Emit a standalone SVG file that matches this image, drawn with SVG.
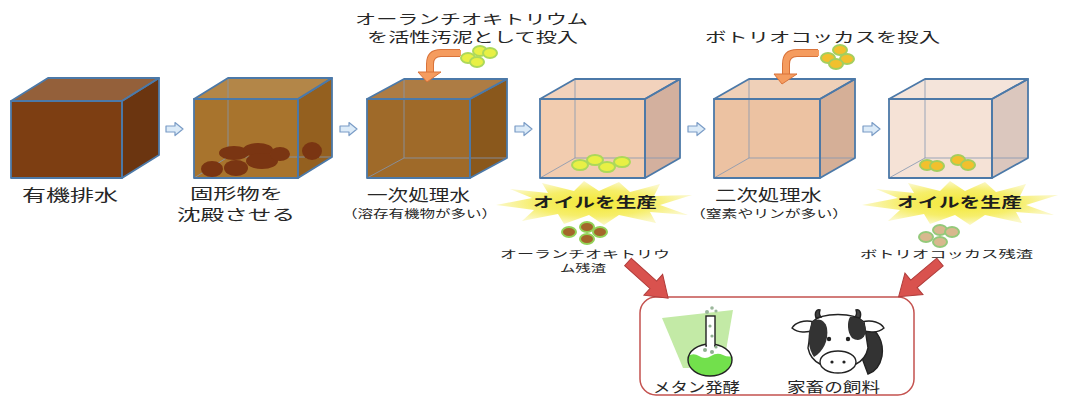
<svg xmlns="http://www.w3.org/2000/svg" width="1069" height="399" viewBox="0 0 1069 399">
  <defs>
    <style>
      .lbl { font-family: "Noto Sans CJK JP", "Noto Sans CJK SC", sans-serif; fill: #262626; }
      .big { font-size: 15.5px; }
      .mid { font-size: 13.5px; }
      .sub { font-size: 11.5px; }
      .sm { font-size: 10.5px; }
      .oil { font-size: 14px; font-weight: bold; fill: #1e1e1e; }
      .edge { fill: none; stroke: #4C79A8; stroke-width: 1.8; stroke-linejoin: round; }
      .back { stroke: #8497B2; stroke-width: 1; opacity: 0.8; }
      .flow { fill: #DCEBF8; stroke: #7A9CC6; stroke-width: 1.2; stroke-linejoin: round; }
      .pipe-o { fill: none; stroke: #D9733A; stroke-width: 8; stroke-linecap: butt; }
      .pipe-i { fill: none; stroke: #F59C5F; stroke-width: 6; stroke-linecap: butt; }
      .head { fill: #F59C5F; stroke: #D9733A; stroke-width: 1; }
      .alga-y { fill: #E8F045; stroke: #ACD85A; stroke-width: 2; }
      .alga-o { fill: #F2C02E; stroke: #A4CE5E; stroke-width: 2; }
      .res-a { fill: #A4662A; stroke: #92D256; stroke-width: 2; }
      .res-b { fill: #D8B88E; stroke: #94C97A; stroke-width: 2; }
      .sed { fill: #7A3512; }
      .red { fill: #D9524E; stroke: #B03C3A; stroke-width: 1; }
      .ink { stroke: #222; stroke-width: 1.4; }
    </style>
    <radialGradient id="burstFill" cx="0.5" cy="0.5" r="0.5">
      <stop offset="0" stop-color="#F3E834"/>
      <stop offset="0.6" stop-color="#F6EE6A"/>
      <stop offset="1" stop-color="#FBF8C8"/>
    </radialGradient>
    <polygon id="burst" fill="url(#burstFill)" points="-98,2 -62,-5 -84,-14 -46,-10 -52,-20 -20,-12 -10,-22 5,-12 25,-21 36,-11 66,-19 60,-7 98,-8 66,2 94,12 56,9 62,20 25,12 10,22 -5,12 -30,21 -36,11 -72,18 -60,7"/>
    <path id="flowArrow" class="flow" d="M0,-3 H9 V-6.5 L17,0 L9,6.5 V3 H0 Z"/>
    <polygon id="redArrow" class="red" points="0,-5 34,-5 34,-14 54,0 34,14 34,5 0,5"/>
    <clipPath id="bulbClip">
      <ellipse cx="710" cy="360" rx="22" ry="16"/>
    </clipPath>
  </defs>

  <rect width="1069" height="399" fill="#ffffff"/>

  <!-- tank 1: raw organic wastewater (opaque) -->
  <g id="tank-raw">
    <polygon points="11,101 48,78 159,78 122,101" fill="#94603A"/>
    <polygon points="122,101 159,78 159,155 122,178" fill="#6B3510"/>
    <rect x="11" y="101" width="111" height="77" fill="#7D3E12"/>
    <polygon class="edge" points="11,101 48,78 159,78 122,101"/>
    <polygon class="edge" points="122,101 159,78 159,155 122,178"/>
    <rect class="edge" x="11" y="101" width="111" height="77"/>
    <text class="lbl big" x="22" y="201" textLength="96" lengthAdjust="spacingAndGlyphs">有機排水</text>
  </g>

  <!-- tank 2: settling of solids -->
  <g id="tank-settle">
    <polygon points="194,99 228,78 332,78 298,99" fill="#B38648"/>
    <polygon points="298,99 332,78 332,157 298,178" fill="#94601F"/>
    <rect x="194" y="99" width="104" height="79" fill="#A8742D"/>
    <line class="back" x1="228" y1="78" x2="228" y2="157"/>
    <line class="back" x1="228" y1="157" x2="332" y2="157"/>
    <line class="back" x1="194" y1="178" x2="228" y2="157"/>
    <ellipse class="sed" cx="212" cy="169" rx="11" ry="8"/>
    <ellipse class="sed" cx="236" cy="168" rx="12" ry="8"/>
    <ellipse class="sed" cx="234" cy="153" rx="15" ry="7"/>
    <ellipse class="sed" cx="258" cy="150" rx="15" ry="7"/>
    <ellipse class="sed" cx="262" cy="161" rx="16" ry="8"/>
    <ellipse class="sed" cx="280" cy="154" rx="10" ry="7"/>
    <ellipse class="sed" cx="312" cy="151" rx="10" ry="9"/>
    <polygon class="edge" points="194,99 228,78 332,78 298,99"/>
    <polygon class="edge" points="298,99 332,78 332,157 298,178"/>
    <rect class="edge" x="194" y="99" width="104" height="79"/>
    <text class="lbl" x="190" y="199" font-size="15" textLength="93" lengthAdjust="spacingAndGlyphs">固形物を</text>
    <text class="lbl" x="177" y="220" font-size="15" textLength="118" lengthAdjust="spacingAndGlyphs">沈殿させる</text>
  </g>

  <!-- tank 3: primary treated water, Aurantiochytrium added -->
  <g id="tank-primary">
    <polygon points="367,99 404,79 507,79 470,99" fill="#AD7C44"/>
    <polygon points="470,99 507,79 507,158 470,178" fill="#8A581C"/>
    <rect x="367" y="99" width="103" height="79" fill="#9F6A29"/>
    <line class="back" x1="404" y1="79" x2="404" y2="158"/>
    <line class="back" x1="404" y1="158" x2="507" y2="158"/>
    <line class="back" x1="367" y1="178" x2="404" y2="158"/>
    <polygon class="edge" points="367,99 404,79 507,79 470,99"/>
    <polygon class="edge" points="470,99 507,79 507,158 470,178"/>
    <rect class="edge" x="367" y="99" width="103" height="79"/>
    <path class="pipe-o" d="M460,53 H441 Q430,53 430,64 V73"/>
    <path class="pipe-i" d="M461,53 H441 Q430,53 430,64 V74"/>
    <polygon class="head" points="418,72 441,72 427,82"/>
    <ellipse class="alga-y" cx="468" cy="58" rx="7" ry="5"/>
    <ellipse class="alga-y" cx="480" cy="51" rx="7" ry="5"/>
    <ellipse class="alga-y" cx="490" cy="53" rx="7" ry="5"/>
    <ellipse class="alga-y" cx="477" cy="62" rx="7" ry="5"/>
    <text class="lbl mid" x="355" y="24" textLength="233" lengthAdjust="spacingAndGlyphs">オーランチオキトリウム</text>
    <text class="lbl mid" x="367" y="42" textLength="211" lengthAdjust="spacingAndGlyphs">を活性汚泥として投入</text>
    <text class="lbl big" x="367" y="201" textLength="103" lengthAdjust="spacingAndGlyphs">一次処理水</text>
    <text class="lbl sub" x="342" y="218" textLength="155" lengthAdjust="spacingAndGlyphs">（溶存有機物が多い）</text>
  </g>

  <!-- tank 4: Aurantiochytrium produces oil -->
  <g id="tank-oil-1">
    <polygon points="540,99 575,79 680,79 645,99" fill="#F2D2BC"/>
    <polygon points="645,99 680,79 680,158 645,178" fill="#D3B09E"/>
    <rect x="540" y="99" width="105" height="79" fill="#F2CCAF"/>
    <line class="back" x1="575" y1="79" x2="575" y2="158"/>
    <line class="back" x1="575" y1="158" x2="680" y2="158"/>
    <line class="back" x1="540" y1="178" x2="575" y2="158"/>
    <ellipse class="alga-y" cx="580" cy="165" rx="8" ry="5"/>
    <ellipse class="alga-y" cx="595" cy="160" rx="8" ry="5"/>
    <ellipse class="alga-y" cx="607" cy="167" rx="8" ry="5"/>
    <ellipse class="alga-y" cx="622" cy="162" rx="8" ry="5"/>
    <polygon class="edge" points="540,99 575,79 680,79 645,99"/>
    <polygon class="edge" points="645,99 680,79 680,158 645,178"/>
    <rect class="edge" x="540" y="99" width="105" height="79"/>
    <use href="#burst" transform="translate(594,203)"/>
    <text class="lbl oil" x="533" y="207" textLength="124" lengthAdjust="spacingAndGlyphs">オイルを生産</text>
    <ellipse class="res-a" cx="569" cy="232" rx="7" ry="5"/>
    <ellipse class="res-a" cx="587" cy="227" rx="7" ry="5"/>
    <ellipse class="res-a" cx="600" cy="232" rx="7" ry="5"/>
    <ellipse class="res-a" cx="587" cy="239" rx="7" ry="5"/>
    <text class="lbl sm" x="500" y="258" textLength="170" lengthAdjust="spacingAndGlyphs">オーランチオキトリウ</text>
    <text class="lbl sm" x="560" y="272" textLength="46" lengthAdjust="spacingAndGlyphs">ム残渣</text>
  </g>

  <!-- tank 5: secondary treated water, Botryococcus added -->
  <g id="tank-secondary">
    <polygon points="714,99 749,79 855,79 820,99" fill="#EFD0B8"/>
    <polygon points="820,99 855,79 855,158 820,178" fill="#D5AF97"/>
    <rect x="714" y="99" width="106" height="79" fill="#ECC2A2"/>
    <line class="back" x1="749" y1="79" x2="749" y2="158"/>
    <line class="back" x1="749" y1="158" x2="855" y2="158"/>
    <line class="back" x1="714" y1="178" x2="749" y2="158"/>
    <polygon class="edge" points="714,99 749,79 855,79 820,99"/>
    <polygon class="edge" points="820,99 855,79 855,158 820,178"/>
    <rect class="edge" x="714" y="99" width="106" height="79"/>
    <path class="pipe-o" d="M818,53 H797 Q786,53 786,64 V75"/>
    <path class="pipe-i" d="M819,53 H797 Q786,53 786,64 V76"/>
    <polygon class="head" points="774,74 797,74 782,84"/>
    <ellipse class="alga-o" cx="828" cy="58" rx="7" ry="5"/>
    <ellipse class="alga-o" cx="840" cy="50" rx="7" ry="5"/>
    <ellipse class="alga-o" cx="847" cy="59" rx="7" ry="5"/>
    <ellipse class="alga-o" cx="836" cy="64" rx="7" ry="5"/>
    <text class="lbl mid" x="705" y="42" textLength="235" lengthAdjust="spacingAndGlyphs">ボトリオコッカスを投入</text>
    <text class="lbl big" x="715" y="201" textLength="107" lengthAdjust="spacingAndGlyphs">二次処理水</text>
    <text class="lbl sub" x="690" y="218" textLength="158" lengthAdjust="spacingAndGlyphs">（窒素やリンが多い）</text>
  </g>

  <!-- tank 6: Botryococcus produces oil -->
  <g id="tank-oil-2">
    <polygon points="889,99 925,79 1028,79 992,99" fill="#F4E4DA"/>
    <polygon points="992,99 1028,79 1028,158 992,178" fill="#DBC7BE"/>
    <rect x="889" y="99" width="103" height="79" fill="#F5E2D6"/>
    <line class="back" x1="925" y1="79" x2="925" y2="158"/>
    <line class="back" x1="925" y1="158" x2="1028" y2="158"/>
    <line class="back" x1="889" y1="178" x2="925" y2="158"/>
    <ellipse class="alga-o" cx="927" cy="165" rx="7" ry="5"/>
    <ellipse class="alga-o" cx="937" cy="166" rx="7" ry="5"/>
    <ellipse class="alga-o" cx="958" cy="160" rx="7" ry="5"/>
    <ellipse class="alga-o" cx="968" cy="165" rx="7" ry="5"/>
    <polygon class="edge" points="889,99 925,79 1028,79 992,99"/>
    <polygon class="edge" points="992,99 1028,79 1028,158 992,178"/>
    <rect class="edge" x="889" y="99" width="103" height="79"/>
    <use href="#burst" transform="translate(960,203)"/>
    <text class="lbl oil" x="897" y="207" textLength="125" lengthAdjust="spacingAndGlyphs">オイルを生産</text>
    <ellipse class="res-b" cx="926" cy="237" rx="7" ry="5"/>
    <ellipse class="res-b" cx="940" cy="230" rx="7" ry="5"/>
    <ellipse class="res-b" cx="952" cy="232" rx="7" ry="5"/>
    <ellipse class="res-b" cx="940" cy="242" rx="7" ry="5"/>
    <text class="lbl sm" x="860" y="258" textLength="173" lengthAdjust="spacingAndGlyphs">ボトリオコッカス残渣</text>
  </g>

  <!-- uses of the residues -->
  <g id="uses">
    <rect x="640" y="297" width="274" height="98" rx="16" fill="#ffffff" stroke="#C4524F" stroke-width="1.5"/>
    <!-- methane fermentation flask -->
    <polygon points="662,318 733,310 723,368 683,368" fill="#C3EAA6"/>
    <circle cx="707" cy="312" r="2" fill="#9BB79B"/>
    <circle cx="712" cy="308" r="1.8" fill="#9BB79B"/>
    <circle cx="716" cy="311" r="1.6" fill="#9BB79B"/>
    <ellipse cx="710" cy="360" rx="22" ry="16" fill="#ffffff"/>
    <path clip-path="url(#bulbClip)" d="M686,357 Q693,352 699,356 T711,356 T723,355 T736,355 V380 H686 Z" fill="#72E04C"/>
    <ellipse cx="710" cy="360" rx="22" ry="16" fill="none" class="ink"/>
    <rect x="706" y="316" width="9" height="30" fill="#ffffff" class="ink"/>
    <rect x="707" y="343" width="7" height="5" fill="#ffffff"/>
    <circle cx="710" cy="326" r="1.6" fill="#8FB08F"/>
    <circle cx="712" cy="336" r="1.6" fill="#8FB08F"/>
    <circle cx="705" cy="350" r="2" fill="#8FB08F"/>
    <circle cx="712" cy="352" r="2" fill="#8FB08F"/>
    <circle cx="716" cy="347" r="1.6" fill="#8FB08F"/>
    <text class="lbl" x="653" y="392" font-size="14" textLength="87" lengthAdjust="spacingAndGlyphs">メタン発酵</text>
    <!-- livestock feed: cow head -->
    <g transform="translate(792,308)">
      <path d="M74,18 C86,22 92,34 90,48 C88,58 82,64 76,66 L70,50 Z" fill="#333" class="ink"/>
      <path d="M22,14 C12,11 3,15 0,20 C6,25 15,25 22,22 Z" fill="#ffffff" class="ink"/>
      <path d="M70,14 C80,11 89,15 92,20 C86,25 77,25 70,22 Z" fill="#ffffff" class="ink"/>
      <path d="M20,14 C30,4 62,4 72,14 L76,40 C74,50 68,54 64,56 L28,56 C24,54 18,50 16,40 Z" fill="#ffffff" class="ink"/>
      <path d="M20,14 C26,9 33,12 35,20 C37,32 31,44 22,49 C17,42 15,30 18,20 Z" fill="#333"/>
      <path d="M58,9 C67,8 73,13 74,22 C73,32 66,34 60,30 C55,24 55,14 58,9 Z" fill="#333"/>
      <path d="M24,10 C22,4 25,1 28,2 C27,5 27,7 29,9 Z" fill="#444" class="ink"/>
      <path d="M68,10 C70,4 67,1 64,2 C65,5 65,7 63,9 Z" fill="#444" class="ink"/>
      <circle cx="37" cy="31" r="2.2" fill="#222"/>
      <circle cx="56" cy="31" r="2.2" fill="#222"/>
      <ellipse cx="46" cy="54" rx="18" ry="11" fill="#ffffff" class="ink"/>
      <circle cx="40" cy="54" r="1.6" fill="#222"/>
      <circle cx="52" cy="54" r="1.6" fill="#222"/>
    </g>
    <text class="lbl" x="787" y="392" font-size="14" textLength="93" lengthAdjust="spacingAndGlyphs">家畜の飼料</text>
  </g>

  <!-- connectors: flow arrows between tanks and residue arrows -->
  <g id="connectors">
    <use href="#flowArrow" transform="translate(166,129)"/>
    <use href="#flowArrow" transform="translate(340,129)"/>
    <use href="#flowArrow" transform="translate(515,129)"/>
    <use href="#flowArrow" transform="translate(688,129)"/>
    <use href="#flowArrow" transform="translate(863,129)"/>
    <use href="#redArrow" transform="translate(628,262) rotate(42)"/>
    <use href="#redArrow" transform="translate(940,262) rotate(140)"/>
  </g>
</svg>
